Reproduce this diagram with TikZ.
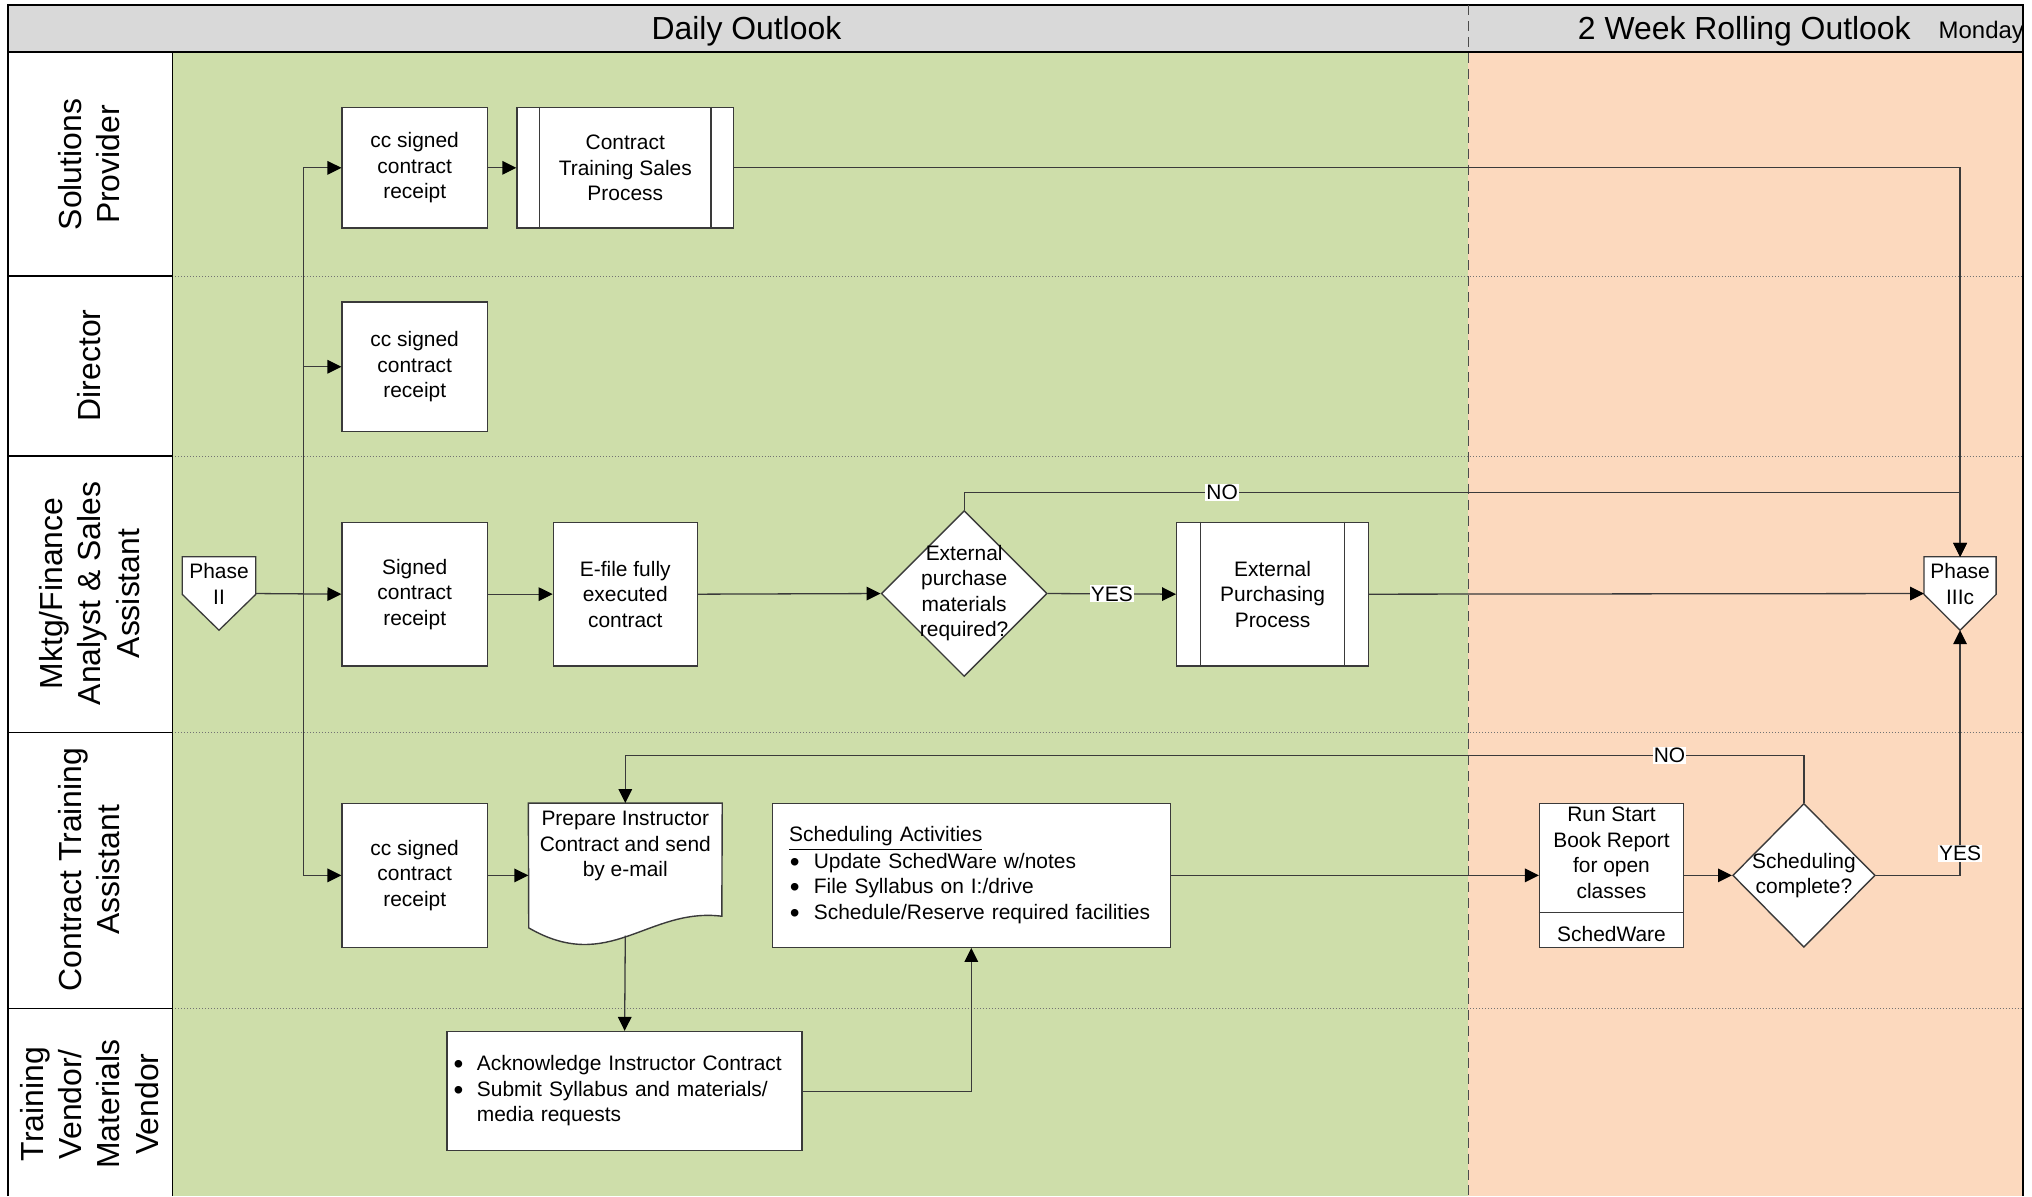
\documentclass[tikz,border=0pt]{standalone}
\usepackage{fontspec}
\setmainfont{Liberation Sans}
\usetikzlibrary{arrows.meta,shapes.geometric,calc}
\definecolor{hdrgray}{HTML}{D9D9D9}
\definecolor{dailygreen}{HTML}{CEDEAA}
\definecolor{rollpeach}{HTML}{FCD9BE}
\definecolor{lineclr}{HTML}{3A3A3A}
\newcommand\bxfont{\fontsize{10.5}{12.8}\selectfont}
\newcommand\hdfont{\fontsize{16}{19}\selectfont}
\newcommand\lnfont{\fontsize{16}{19.2}\selectfont}
\newcommand\dyfont{\fontsize{12}{14}\selectfont}
\newcommand\bigbullet{\smash{\raisebox{-1.5pt}{\fontsize{14}{14}\selectfont\textbullet}}}
\begin{document}
\begin{tikzpicture}[x=0.65pt,y=-0.65pt,
  box/.style={draw=lineclr, fill=white, line width=0.7pt, inner sep=0pt, align=center, font=\bxfont},
  conn/.style={draw=lineclr, line width=0.65pt},
  arr/.style={conn, -{Triangle[length=7pt,width=6.8pt,color=black]}},
  lab/.style={fill=white, inner sep=0.6pt, font=\bxfont},
  txt/.style={font=\bxfont, align=center, inner sep=0pt},
  lanetxt/.style={rotate=90, align=center, font=\lnfont},
  frame/.style={draw=black, line width=0.9pt},
  sep/.style={draw=black!55, line width=0.5pt, densely dotted}]

\useasboundingbox (0,0) rectangle (1568,923);
\fill[white] (0,0) rectangle (1568,923);

% swimlane backgrounds
\fill[dailygreen] (133,40) rectangle (1133,923);
\fill[rollpeach] (1133,40) rectangle (1561,923);
\fill[hdrgray] (6,4) rectangle (1561,40);

% lane separators and frame
\foreach \yy in {213,352,565,778} {
  \draw[sep] (133,\yy) -- (1561,\yy);
  \draw[frame, line width=0.7pt] (6,\yy) -- (133,\yy);
}
\draw[frame] (6,923) -- (6,4) -- (1561,4) -- (1561,923);
\draw[frame] (6,40) -- (1561,40);
\draw[frame, line width=0.7pt] (133,40) -- (133,923);
\draw[draw=black!70, line width=0.6pt, dash pattern=on 5pt off 3pt] (1133,4) -- (1133,923);

% header
\node[font=\hdfont] (hdaily) at (576,24) {Daily Outlook};
\node[font=\hdfont] (hroll) at (1346,24) {2 Week Rolling Outlook};
\node[font=\dyfont, anchor=east, inner sep=0pt] (hmon) at (1562,25) {Monday};

% lane titles
\node[lanetxt] (l1) at (69,127) {Solutions\\Provider};
\node[lanetxt] (l2) at (69,282) {Director};
\node[lanetxt] (l3) at (69,458) {Mktg/Finance\\Analyst \& Sales\\Assistant};
\node[lanetxt] (l4) at (69,671) {Contract Training\\Assistant};
\node[lanetxt] (l5) at (69,852) {Training\\Vendor/\\Materials\\Vendor};

% Solutions Provider lane
\node[box, minimum width=72.8pt, minimum height=60.45pt] (cc1) at (320,129.5) {cc signed\\contract\\receipt};
\node[box, minimum width=108.55pt, minimum height=60.45pt] (ctsp) at (482.5,129.5) {Contract\\Training Sales\\Process};
\draw[conn] ($(ctsp.north west)+(18,0)$) -- ($(ctsp.south west)+(18,0)$);
\draw[conn] ($(ctsp.north east)+(-18,0)$) -- ($(ctsp.south east)+(-18,0)$);

% Director lane
\node[box, minimum width=72.8pt, minimum height=65pt] (cc2) at (320,283) {cc signed\\contract\\receipt};

% Mktg/Finance lane
\node[minimum width=36.4pt, minimum height=36.4pt, inner sep=0pt] (ph2) at (169,458) {};
\draw[conn, fill=white] (ph2.north west) -- (ph2.north east) -- ($(ph2.north east)+(0,29)$) -- (ph2.south) -- ($(ph2.north west)+(0,29)$) -- cycle;
\node[txt] (ph2t) at (169,450.5) {Phase\\II};
\node[box, minimum width=72.8pt, minimum height=72.15pt] (signed) at (320,458.5) {Signed\\contract\\receipt};
\node[box, minimum width=72.15pt, minimum height=72.15pt] (efile) at (482.5,458.5) {E-file fully\\executed\\contract};
\node[diamond, draw=lineclr, fill=white, line width=0.7pt, minimum width=83.2pt, minimum height=83.2pt, inner sep=0pt] (d1) at (744,458) {};
\node[txt] (d1t) at (744,457.5) {External\\purchase\\materials\\required?};
\node[box, minimum width=96.2pt, minimum height=72.15pt] (extp) at (982,458.5) {External\\Purchasing\\Process};
\draw[conn] ($(extp.north west)+(19,0)$) -- ($(extp.south west)+(19,0)$);
\draw[conn] ($(extp.north east)+(-19,0)$) -- ($(extp.south east)+(-19,0)$);
\node[minimum width=35.75pt, minimum height=36.4pt, inner sep=0pt] (ph3) at (1512.5,458) {};
\draw[conn, fill=white] (ph3.north west) -- (ph3.north east) -- ($(ph3.north east)+(0,29)$) -- (ph3.south) -- ($(ph3.north west)+(0,29)$) -- cycle;
\node[txt] (ph3t) at (1512.5,450.5) {Phase\\IIIc};

% Contract Training Assistant lane
\node[box, minimum width=72.8pt, minimum height=72.15pt] (cc4) at (320,675.5) {cc signed\\contract\\receipt};
\node[minimum width=96.85pt, minimum height=72.15pt, inner sep=0pt] (prep) at (482.5,675.5) {};
\draw[conn, line width=0.7pt, fill=white] (prep.north west) -- (prep.north east) -- (557,707)
  .. controls (500,700) and (470,752) .. (408,716) -- cycle;
\node[txt] (prept) at (482.5,653) {Prepare Instructor\\Contract and send\\by e-mail};
\coordinate (prepbot) at (482.5,722);
\node[box, minimum width=199.55pt, minimum height=72.15pt, text width=182.65pt, align=left, inner xsep=8.45pt] (sched) at (749.5,675.5)
  {\begin{tabular}{@{}l@{}l@{}}
   \multicolumn{2}{@{}l@{}}{\underline{Scheduling Activities}}\\
   \makebox[12.35pt][l]{\hspace{0.3pt}\bigbullet} & Update SchedWare w/notes\\
   \makebox[12.35pt][l]{\hspace{0.3pt}\bigbullet} & File Syllabus on I:/drive\\
   \makebox[12.35pt][l]{\hspace{0.3pt}\bigbullet} & Schedule/Reserve required facilities
   \end{tabular}};
\node[box, minimum width=72.15pt, minimum height=72.15pt] (run) at (1243.5,675.5) {};
\coordinate (rundiv) at (0,704);
\draw[conn] (run.west |- rundiv) -- (run.east |- rundiv);
\node[txt] (runt) at (1243.5,658) {Run Start\\Book Report\\for open\\classes};
\node[txt] (runsw) at (1243.5,721) {SchedWare};
\node[diamond, draw=lineclr, fill=white, line width=0.7pt, minimum width=71.5pt, minimum height=72.15pt, inner sep=0pt] (d2) at (1392,675.5) {};
\node[txt] (d2t) at (1392,675.5) {Scheduling\\complete?};

% Vendor lane
\node[box, minimum width=178.1pt, minimum height=59.8pt, text width=171.6pt, align=left, inner xsep=3.25pt] (ack) at (482,842)
  {\begin{tabular}{@{}l@{}l@{}}
   \makebox[11.7pt][l]{\bigbullet} & Acknowledge Instructor Contract\\
   \makebox[11.7pt][l]{\bigbullet} & Submit Syllabus and materials/\\
   & media requests
   \end{tabular}};

% connectors
\coordinate (trunk) at (234,458);
\coordinate (noA) at (0,380);
\coordinate (noB) at (0,583);
\draw[arr] (ph2.east) -- (signed.west);
\draw[arr] (trunk) |- (cc1.west);
\draw[arr] (trunk) |- (cc2.west);
\draw[arr] (trunk) |- (cc4.west);
\draw[arr] (cc1.east) -- (ctsp.west);
\draw[arr] (ctsp.east) -| (ph3.north);
\draw[arr] (signed.east) -- (efile.west);
\draw[arr] (efile.east) -- (d1.west);
\draw[arr] (d1.east) -- node[lab] {YES} (extp.west);
\draw[arr] (d1.north) -- (d1.north |- noA) -- node[lab, pos=0.259] {NO} (ph3.north |- noA) -- (ph3.north);
\draw[arr] (extp.east) -- (ph3.west);
\draw[arr] (cc4.east) -- (prep.west);
\draw[arr] (d2.north) -- (d2.north |- noB) -- node[lab, pos=0.114] {NO} (prep.north |- noB) -- (prep.north);
\draw[arr] (prepbot) -- (ack.north);
\draw[arr] (ack.east) -| (sched.south);
\draw[arr] (sched.east) -- (run.west);
\draw[arr] (run.east) -- (d2.west);
\draw[arr] (d2.east) -| node[lab, pos=0.545] {YES} (ph3.south);
\end{tikzpicture}
\end{document}
